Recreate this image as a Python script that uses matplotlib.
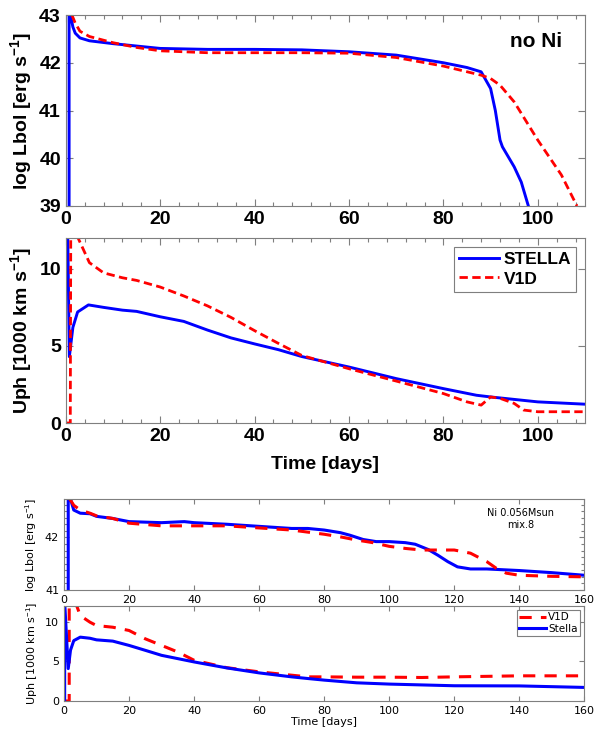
import matplotlib
matplotlib.use("Agg")
import matplotlib.pyplot as plt
from matplotlib.ticker import MultipleLocator

# ---------------- data: no Ni ----------------
t_lum_stella = [0.7, 0.7, 1.0, 1.5, 2.0, 3.0, 5.0, 10, 20, 30, 40, 50, 60, 70, 80, 85, 88, 90, 91, 92, 92.5, 95, 96.5, 98]
lum_stella = [39.0, 43.0, 43.0, 42.75, 42.62, 42.52, 42.46, 42.40, 42.30, 42.28, 42.28, 42.27, 42.23, 42.16, 42.0, 41.9, 41.81, 41.46, 41.0, 40.38, 40.24, 39.82, 39.5, 39.0]

t_lum_v1d = [1.3, 2.0, 3.0, 5.0, 10, 15, 20, 30, 40, 50, 60, 70, 80, 88, 90, 92, 95, 100, 105, 108.3]
lum_v1d = [43.0, 42.83, 42.66, 42.55, 42.42, 42.32, 42.25, 42.21, 42.21, 42.21, 42.20, 42.11, 41.93, 41.74, 41.67, 41.53, 41.18, 40.38, 39.65, 39.0]

t_vel_stella = [0.4, 0.75, 1.5, 2.5, 4.8, 8, 12, 15, 20, 25, 30, 35, 40, 45, 50, 60, 70, 80, 87, 90, 100, 110]
vel_stella = [12.5, 4.3, 6.2, 7.2, 7.66, 7.5, 7.32, 7.24, 6.89, 6.59, 6.03, 5.52, 5.13, 4.76, 4.31, 3.63, 2.88, 2.23, 1.8, 1.69, 1.37, 1.22]

t_vel_v1d = [0.0, 0.95, 1.05, 2.6, 5, 8, 12, 15, 20, 25, 30, 35, 40, 45, 50, 60, 70, 80, 85, 88, 90, 92, 95, 97, 100, 110]
vel_v1d = [0.0, 0.0, 12.5, 12.0, 10.4, 9.74, 9.42, 9.25, 8.82, 8.24, 7.6, 6.85, 5.99, 5.17, 4.38, 3.52, 2.72, 1.91, 1.37, 1.16, 1.69, 1.6, 1.27, 0.84, 0.73, 0.73]

# ---------------- data: Ni 0.056 Msun, mix.8 ----------------
t_lum2_stella = [1.3, 1.3, 2.0, 3, 5, 8, 10, 15, 20, 30, 37, 40, 50, 60, 70, 75, 80, 85, 88, 92, 96, 100, 105, 108, 112, 115, 118, 121, 125, 130, 140, 150, 160]
lum2_stella = [41.0, 42.73, 42.73, 42.52, 42.46, 42.45, 42.40, 42.36, 42.30, 42.28, 42.30, 42.28, 42.25, 42.21, 42.17, 42.17, 42.14, 42.09, 42.04, 41.96, 41.92, 41.92, 41.90, 41.87, 41.77, 41.66, 41.54, 41.44, 41.40, 41.40, 41.37, 41.33, 41.28]

t_lum2_v1d = [1.8, 3, 5, 8, 10, 15, 20, 30, 40, 50, 60, 70, 80, 85, 90, 95, 100, 105, 110, 115, 120, 125, 130, 133, 136, 140, 150, 160]
lum2_v1d = [42.73, 42.61, 42.52, 42.46, 42.41, 42.36, 42.27, 42.22, 42.22, 42.22, 42.18, 42.14, 42.06, 42.01, 41.95, 41.90, 41.83, 41.79, 41.76, 41.76, 41.76, 41.70, 41.54, 41.41, 41.32, 41.28, 41.26, 41.25]

t_vel2_stella = [0.2, 0.2, 1.3, 2, 3, 5, 8, 10, 15, 20, 25, 30, 40, 50, 60, 70, 75, 80, 90, 100, 120, 140, 160]
vel2_stella = [0.0, 12.5, 4.08, 6.4, 7.6, 8.04, 7.9, 7.7, 7.54, 7.0, 6.38, 5.75, 4.92, 4.17, 3.54, 3.04, 2.83, 2.63, 2.29, 2.13, 1.92, 1.9, 1.71]

t_vel2_v1d = [0.0, 1.6, 1.6, 3.9, 5, 8, 10, 15, 20, 25, 30, 35, 40, 50, 60, 70, 75, 80, 90, 100, 110, 120, 140, 160]
vel2_v1d = [0.0, 0.0, 12.5, 12.0, 10.75, 9.92, 9.5, 9.29, 8.88, 7.83, 7.0, 6.17, 5.13, 4.2, 3.67, 3.25, 3.04, 3.04, 3.0, 3.0, 2.96, 3.04, 3.17, 3.17]

BLUE = "#0000ff"
RED = "#ff0000"
SPINE = "#7f7f7f"

W, H = 596, 729
fig = plt.figure(figsize=(W / 100, H / 100), dpi=100)

def px_axes(l, t, r, b):
    return fig.add_axes([l / W, 1 - b / H, (r - l) / W, (b - t) / H])

def style(ax, fam, size, weight, ticklen=4):
    for s in ax.spines.values():
        s.set_color(SPINE)
        s.set_linewidth(0.8)
    ax.tick_params(which="both", direction="in", top=True, right=True, colors=SPINE,
                   labelcolor="black", width=0.8)
    ax.tick_params(which="major", length=ticklen)
    ax.tick_params(which="minor", length=ticklen * 0.55)
    for lab in ax.get_xticklabels() + ax.get_yticklabels():
        lab.set_fontfamily(fam)
        lab.set_fontsize(size)
        lab.set_fontweight(weight)

TOPF = "Liberation Sans"
BOTF = "DejaVu Sans"
plt.rcParams["mathtext.fontset"] = "custom"
plt.rcParams["mathtext.rm"] = "Liberation Sans"
plt.rcParams["mathtext.bf"] = "Liberation Sans:bold"

# ---- panel 1 ----
ax1 = px_axes(65.8, 15, 585, 206)
ax1.plot(t_lum_stella, lum_stella, color=BLUE, lw=2.1)
ax1.plot(t_lum_v1d, lum_v1d, color=RED, lw=2.0, ls=(0, (3, 1.6)))
ax1.set_xlim(0, 110)
ax1.set_ylim(39, 43)
ax1.xaxis.set_major_locator(MultipleLocator(20))
ax1.xaxis.set_minor_locator(MultipleLocator(4))
ax1.yaxis.set_major_locator(MultipleLocator(1))
style(ax1, TOPF, 14, "bold", 5)
ax1.set_ylabel(r"log Lbol [erg s$^{\mathbf{-1}}$]", fontfamily=TOPF, fontsize=14, fontweight="bold", labelpad=3)
ax1.text(0.955, 0.86, "no Ni", transform=ax1.transAxes, ha="right", va="center",
         fontfamily=TOPF, fontsize=15, fontweight="bold")

# ---- panel 2 ----
ax2 = px_axes(65.8, 238, 585, 423)
ax2.plot(t_vel_stella, vel_stella, color=BLUE, lw=2.1, label="STELLA")
ax2.plot(t_vel_v1d, vel_v1d, color=RED, lw=2.0, ls=(0, (3, 1.6)), label="V1D")
ax2.set_xlim(0, 110)
ax2.set_ylim(0, 12)
ax2.xaxis.set_major_locator(MultipleLocator(20))
ax2.xaxis.set_minor_locator(MultipleLocator(4))
ax2.yaxis.set_major_locator(MultipleLocator(5))
style(ax2, TOPF, 14, "bold", 5)
ax2.set_ylabel(r"Uph [1000 km s$^{\mathbf{-1}}$]", fontfamily=TOPF, fontsize=14, fontweight="bold", labelpad=3)
ax2.set_xlabel("Time [days]", fontfamily=TOPF, fontsize=14, fontweight="bold", labelpad=8)
leg = ax2.legend(loc="upper right", prop={"family": TOPF, "size": 12.5, "weight": "bold"},
                 fancybox=False, framealpha=1, edgecolor=SPINE, handlelength=2.3,
                 borderaxespad=0.5, borderpad=0.3, labelspacing=0.25, handletextpad=0.25)
leg.get_frame().set_linewidth(0.8)

# ---- panel 3 ----
ax3 = px_axes(64, 499, 584.3, 590)
ax3.plot(t_lum2_stella, lum2_stella, color=BLUE, lw=2.2)
ax3.plot(t_lum2_v1d, lum2_v1d, color=RED, lw=2.2, ls=(0, (4, 3)))
ax3.set_xlim(0, 160)
ax3.set_ylim(41, 42.73)
ax3.xaxis.set_major_locator(MultipleLocator(20))
ax3.yaxis.set_major_locator(MultipleLocator(1))
ax3.yaxis.set_minor_locator(MultipleLocator(0.125))
style(ax3, BOTF, 8, "normal", 3.5)
ax3.set_ylabel(r"log Lbol [erg s$^{-1}$]", fontfamily=BOTF, fontsize=8, labelpad=4)
ax3.text(0.877, 0.78, "Ni 0.056Msun\nmix.8", transform=ax3.transAxes, ha="center", va="center",
         fontfamily=BOTF, fontsize=7, linespacing=1.2)

# ---- panel 4 ----
ax4 = px_axes(64, 605.7, 584.3, 701)
ax4.plot(t_vel2_v1d, vel2_v1d, color=RED, lw=2.2, ls=(0, (4, 3)), label="V1D")
ax4.plot(t_vel2_stella, vel2_stella, color=BLUE, lw=2.2, label="Stella")
ax4.set_xlim(0, 160)
ax4.set_ylim(0, 12)
ax4.xaxis.set_major_locator(MultipleLocator(20))
ax4.yaxis.set_major_locator(MultipleLocator(5))
style(ax4, BOTF, 8, "normal", 3.5)
ax4.set_ylabel(r"Uph [1000 km s$^{-1}$]", fontfamily=BOTF, fontsize=8, labelpad=4)
ax4.set_xlabel("Time [days]", fontfamily=BOTF, fontsize=8, labelpad=1)
leg2 = ax4.legend(loc="upper right", prop={"family": BOTF, "size": 7.5},
                  fancybox=False, framealpha=1, edgecolor=SPINE, handlelength=2.6,
                  borderaxespad=0.45, borderpad=0.2, labelspacing=0.1, handletextpad=0.2)
leg2.get_frame().set_linewidth(0.8)

fig.savefig("out.png", dpi=100)
